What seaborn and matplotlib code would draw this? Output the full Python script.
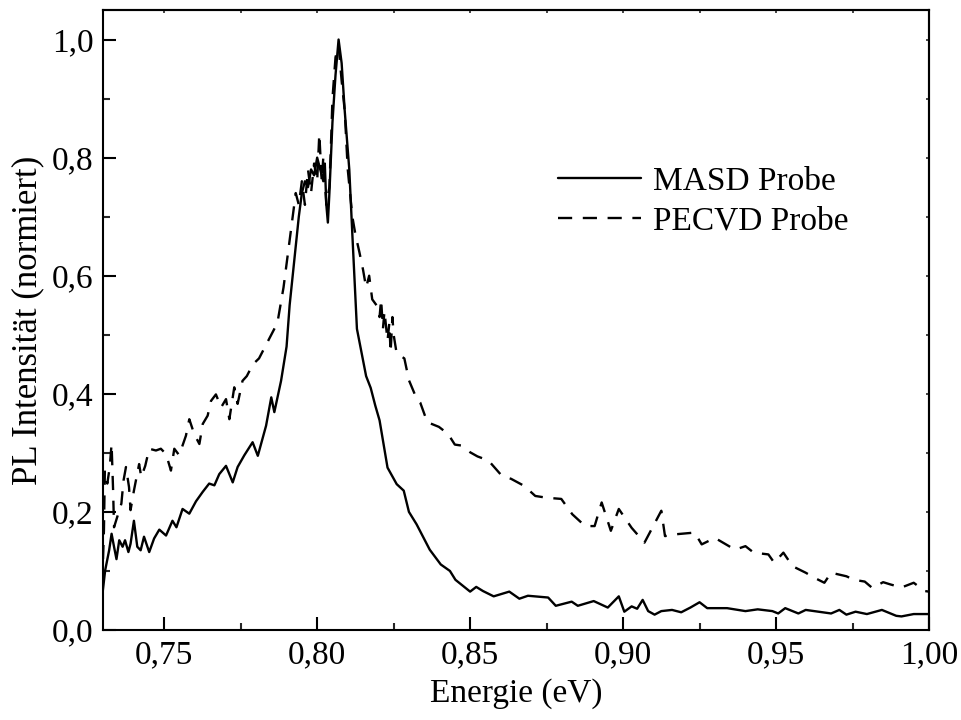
import matplotlib
matplotlib.use("Agg")
import matplotlib.pyplot as plt
import seaborn as sns
import pandas as pd
from matplotlib.ticker import MultipleLocator, FuncFormatter

masd_x = [0.7297, 0.7307, 0.732, 0.7328, 0.7336, 0.7344, 0.7353, 0.7364, 0.7372, 0.7383,
          0.739, 0.7401, 0.7412, 0.7423, 0.7434, 0.7451, 0.7467, 0.7484, 0.7506, 0.7527,
          0.754, 0.756, 0.7582, 0.7604, 0.7626, 0.7647, 0.7664, 0.768, 0.7702, 0.7724,
          0.774, 0.7762, 0.7789, 0.7806, 0.7833, 0.785, 0.786, 0.7882, 0.790, 0.791,
          0.792, 0.793, 0.794, 0.795, 0.796, 0.797, 0.798, 0.799, 0.800, 0.801,
          0.802, 0.8025, 0.803, 0.8035, 0.804, 0.805, 0.806, 0.807, 0.808, 0.809,
          0.8105, 0.8115, 0.813, 0.8145, 0.816, 0.8175, 0.819, 0.8204, 0.823, 0.826,
          0.8283, 0.830, 0.8325, 0.8368, 0.8404, 0.8434, 0.8452, 0.850, 0.852, 0.8542,
          0.8577, 0.8628, 0.8661, 0.8689, 0.8755, 0.878, 0.8832, 0.8852, 0.8904, 0.895,
          0.8986, 0.9004, 0.9028, 0.9046, 0.9064, 0.9082, 0.9103, 0.9125, 0.916, 0.919,
          0.922, 0.925, 0.9275, 0.934, 0.940, 0.944, 0.9488, 0.9507, 0.953, 0.9573,
          0.9597, 0.968, 0.9707, 0.973, 0.976, 0.9797, 0.9846, 0.9893, 0.991, 0.995, 1.0]
masd_y = [0.056, 0.101, 0.135, 0.163, 0.141, 0.120, 0.152, 0.141, 0.152, 0.132,
          0.146, 0.185, 0.141, 0.135, 0.158, 0.132, 0.155, 0.170, 0.160, 0.185,
          0.174, 0.205, 0.197, 0.218, 0.234, 0.248, 0.245, 0.264, 0.278, 0.250,
          0.276, 0.296, 0.318, 0.295, 0.346, 0.394, 0.369, 0.422, 0.480, 0.550,
          0.600, 0.650, 0.700, 0.740, 0.760, 0.750, 0.780, 0.770, 0.800, 0.780,
          0.760, 0.790, 0.720, 0.690, 0.740, 0.860, 0.940, 1.000, 0.960, 0.880,
          0.780, 0.670, 0.510, 0.470, 0.430, 0.410, 0.380, 0.355, 0.275, 0.247,
          0.236, 0.200, 0.179, 0.136, 0.111, 0.100, 0.085, 0.065, 0.073, 0.066,
          0.057, 0.065, 0.053, 0.058, 0.055, 0.041, 0.048, 0.041, 0.049, 0.038,
          0.057, 0.031, 0.040, 0.036, 0.051, 0.032, 0.026, 0.032, 0.034, 0.030,
          0.038, 0.047, 0.037, 0.037, 0.032, 0.035, 0.032, 0.028, 0.037, 0.028,
          0.034, 0.028, 0.034, 0.026, 0.031, 0.027, 0.034, 0.024, 0.023, 0.027, 0.027]

pecvd_x = [0.730, 0.7303, 0.7306, 0.7314, 0.7322, 0.7328, 0.7333, 0.7336, 0.736, 0.7367,
           0.7375, 0.7385, 0.739, 0.7401, 0.7418, 0.7425, 0.7438, 0.7451, 0.7473, 0.7489,
           0.7506, 0.7522, 0.7533, 0.7549, 0.7571, 0.7582, 0.7598, 0.7615, 0.7626, 0.7642,
           0.7653, 0.7669, 0.7686, 0.7702, 0.7713, 0.7729, 0.774, 0.7756, 0.777, 0.779,
           0.781, 0.783, 0.785, 0.787, 0.788, 0.789, 0.790, 0.791, 0.792, 0.793,
           0.794, 0.795, 0.796, 0.797, 0.798, 0.799, 0.800, 0.8007, 0.8015, 0.802,
           0.803, 0.804, 0.8045, 0.805, 0.806, 0.807, 0.8075, 0.808, 0.809, 0.8094,
           0.810, 0.8115, 0.8125, 0.8138, 0.815, 0.816, 0.817, 0.818, 0.8194, 0.8204,
           0.8209, 0.8215, 0.822, 0.823, 0.8236, 0.824, 0.8246, 0.825, 0.826, 0.8285,
           0.830, 0.8325, 0.8337, 0.836, 0.8398, 0.8428, 0.845, 0.847, 0.850, 0.8524,
           0.856, 0.8604, 0.8634, 0.8677, 0.8713, 0.875, 0.8798, 0.8834, 0.8876, 0.8907,
           0.893, 0.896, 0.8986, 0.9028, 0.907, 0.9125, 0.9137, 0.917, 0.9234, 0.9257,
           0.930, 0.9336, 0.9366, 0.940, 0.9427, 0.9475, 0.9494, 0.9524, 0.9554, 0.9597,
           0.9627, 0.9658, 0.968, 0.973, 0.9755, 0.979, 0.9815, 0.985, 0.9875, 0.991,
           0.995, 0.9986, 1.0]
pecvd_y = [0.120, 0.169, 0.270, 0.248, 0.276, 0.315, 0.236, 0.174, 0.214, 0.253,
           0.276, 0.242, 0.203, 0.236, 0.281, 0.259, 0.278, 0.307, 0.304, 0.307,
           0.298, 0.270, 0.307, 0.296, 0.329, 0.357, 0.332, 0.315, 0.349, 0.363,
           0.388, 0.399, 0.377, 0.391, 0.357, 0.411, 0.383, 0.422, 0.430, 0.450,
           0.460, 0.480, 0.500, 0.520, 0.550, 0.580, 0.620, 0.660, 0.700, 0.740,
           0.720, 0.760, 0.720, 0.780, 0.740, 0.790, 0.760, 0.840, 0.760, 0.800,
           0.720, 0.750, 0.820, 0.900, 0.970, 0.990, 0.960, 0.930, 0.880, 0.840,
           0.780, 0.700, 0.670, 0.640, 0.610, 0.580, 0.600, 0.560, 0.550, 0.530,
           0.560, 0.510, 0.540, 0.490, 0.520, 0.470, 0.530, 0.500, 0.468, 0.460,
           0.423, 0.392, 0.385, 0.352, 0.344, 0.332, 0.314, 0.3125, 0.301, 0.294,
           0.287, 0.261, 0.256, 0.244, 0.227, 0.224, 0.222, 0.196, 0.176, 0.176,
           0.216, 0.168, 0.205, 0.173, 0.148, 0.202, 0.159, 0.162, 0.165, 0.145,
           0.156, 0.145, 0.136, 0.142, 0.131, 0.128, 0.114, 0.131, 0.108, 0.097,
           0.088, 0.080, 0.097, 0.091, 0.085, 0.082, 0.071, 0.081, 0.077, 0.072,
           0.080, 0.066, 0.065]

labels = ["MASD Probe", "PECVD Probe"]
x_ticks = [0.75, 0.80, 0.85, 0.90, 0.95, 1.00]
y_ticks = [0.0, 0.2, 0.4, 0.6, 0.8, 1.0]

df = pd.concat([
    pd.DataFrame({"E": masd_x, "I": masd_y, "Probe": labels[0]}),
    pd.DataFrame({"E": pecvd_x, "I": pecvd_y, "Probe": labels[1]}),
], ignore_index=True)

sns.set_theme(style="ticks")
plt.rcParams['font.family'] = ['Liberation Serif', 'DejaVu Serif']

fig = plt.figure(figsize=(9.61, 7.2), dpi=100)
ax = fig.add_axes([0.1072, 0.125, 0.8595, 0.8611])

sns.lineplot(data=df, x="E", y="I", hue="Probe", style="Probe",
             palette=["black", "black"], dashes={labels[0]: "", labels[1]: (6, 4.5)},
             linewidth=1.7, ax=ax, sort=False, estimator=None, legend=True)

ax.set_xlim(0.73, 1.00)
ax.set_ylim(0.0, 1.05)
ax.set_xticks(x_ticks)
ax.set_yticks(y_ticks)
ax.xaxis.set_minor_locator(MultipleLocator(0.025))
ax.yaxis.set_minor_locator(MultipleLocator(0.1))
ax.xaxis.set_major_formatter(FuncFormatter(lambda v, p: f"{v:.2f}".replace(".", ",")))
ax.yaxis.set_major_formatter(FuncFormatter(lambda v, p: f"{v:.1f}".replace(".", ",")))

for s in ax.spines.values():
    s.set_linewidth(1.5)
    s.set_color("black")

ax.tick_params(which="major", direction="in", length=9.5, width=1.5, labelsize=24,
               pad=7, colors="black", top=False, right=False)
ax.tick_params(which="minor", direction="in", length=5, width=1.5,
               top=False, right=False)

# short ticks on top and right
sec_x = ax.secondary_xaxis("top")
sec_x.set_xticks(x_ticks)
sec_x.xaxis.set_minor_locator(MultipleLocator(0.025))
sec_x.tick_params(which="both", direction="in", length=2.5, width=1.2, labeltop=False)
sec_x.spines["top"].set_linewidth(1.5)
sec_y = ax.secondary_yaxis("right")
sec_y.set_yticks(y_ticks)
sec_y.yaxis.set_minor_locator(MultipleLocator(0.1))
sec_y.tick_params(which="both", direction="in", length=2.5, width=1.2, labelright=False)
sec_y.spines["right"].set_linewidth(1.5)

ax.set_xlabel("Energie (eV)", fontsize=24, labelpad=6, color="black")
ax.set_ylabel("PL Intensität (normiert)", fontsize=25, labelpad=5, color="black")

leg = ax.legend(loc="upper left", bbox_to_anchor=(0.551, 0.748), frameon=False,
                fontsize=24, handlelength=2.5, handletextpad=0.35, labelspacing=0.27,
                borderaxespad=0, borderpad=0)
for line in leg.get_lines():
    line.set_linewidth(1.7)
for t in leg.get_texts():
    t.set_color("black")

fig.savefig("out.png", dpi=100)
